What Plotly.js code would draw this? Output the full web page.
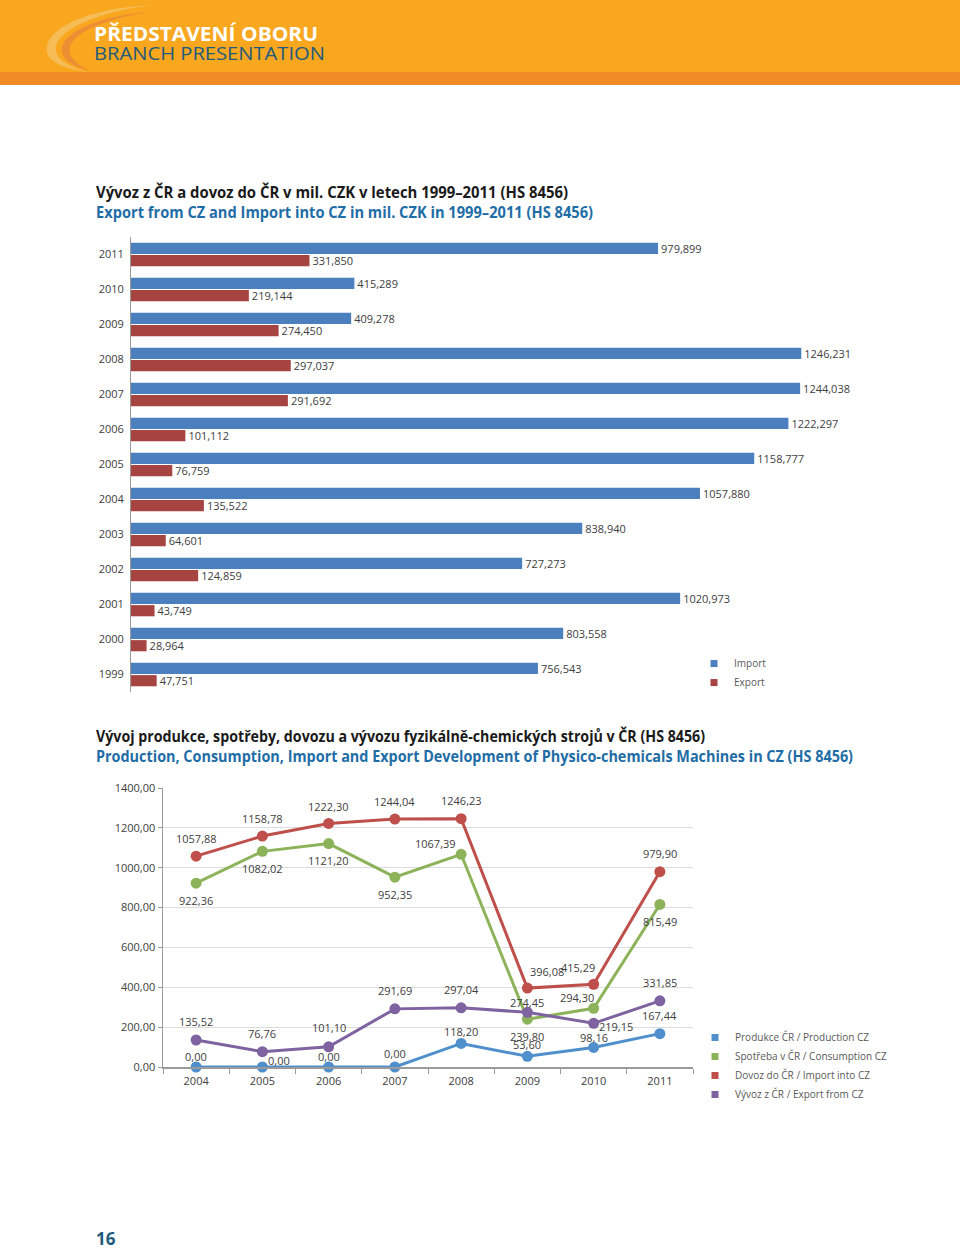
<!DOCTYPE html>
<html><head><meta charset="utf-8">
<script src="https://cdn.plot.ly/plotly-3.0.1.min.js"></script>
<style>
body{margin:0;width:960px;height:1249px;position:relative;background:#fff;font-family:'Open Sans',sans-serif;overflow:hidden}
#hdr{position:absolute;left:0;top:0;width:960px;height:72px;background:#F8A71F}
#hdr2{position:absolute;left:0;top:72px;width:960px;height:13px;background:#F08B25}
.t{position:absolute;white-space:nowrap;transform-origin:0 0;line-height:1}
#c1{position:absolute;left:0;top:230px;width:960px;height:520px}
#c2{position:absolute;left:0;top:770px;width:960px;height:400px}
</style></head><body>
<div id="hdr"></div><div id="hdr2"></div>
<svg style="position:absolute;left:0;top:0" width="220" height="85">
  <path d="M152,5 C95,8 52,24 47,46 C44,60 60,68 88,72 C66,66 54,58 56,46 C60,28 100,12 152,5 Z" fill="#F6BC55"/>
  <path d="M148,12 C102,16 66,30 62,47 C60,58 70,66 90,71 C76,64 68,57 70,47 C74,32 106,19 148,12 Z" fill="#EE8E32"/>
</svg>
<div class="t" data-w="224" style="left:94px;top:25px;font-size:19px;font-weight:700;color:#fff">PŘEDSTAVENÍ OBORU</div>
<div class="t" data-w="231" style="left:94px;top:44px;font-size:19px;font-weight:400;color:#1E5B7D">BRANCH PRESENTATION</div>

<div class="t" data-w="472" style="left:96px;top:184px;font-size:16px;font-weight:700;color:#1a1a1a">Vývoz z ČR a dovoz do ČR v mil. CZK v letech 1999–2011 (HS 8456)</div>
<div class="t" data-w="497" style="left:96px;top:204px;font-size:16px;font-weight:700;color:#1F6DA6">Export from CZ and Import into CZ in mil. CZK in 1999–2011 (HS 8456)</div>

<div class="t" data-w="609" style="left:96px;top:728px;font-size:16px;font-weight:700;color:#1a1a1a">Vývoj produkce, spotřeby, dovozu a vývozu fyzikálně-chemických strojů v ČR (HS 8456)</div>
<div class="t" data-w="757" style="left:96px;top:748px;font-size:16px;font-weight:700;color:#1F6DA6">Production, Consumption, Import and Export Development of Physico-chemicals Machines in CZ (HS 8456)</div>

<div class="t" style="left:96px;top:1230px;font-size:17px;font-weight:700;color:#1E5B7D">16</div>

<div id="c1"></div>
<div id="c2"></div>
<script>
// ---------- data: chart 1 ----------
var years = ['1999','2000','2001','2002','2003','2004','2005','2006','2007','2008','2009','2010','2011'];
var importVals = [756.543, 803.558, 1020.973, 727.273, 838.940, 1057.880, 1158.777, 1222.297, 1244.038, 1246.231, 409.278, 415.289, 979.899];
var exportVals = [47.751, 28.964, 43.749, 124.859, 64.601, 135.522, 76.759, 101.112, 291.692, 297.037, 274.450, 219.144, 331.850];

// ---------- data: chart 2 ----------
var lineYears = ['2004','2005','2006','2007','2008','2009','2010','2011'];
var production = [0.00, 0.00, 0.00, 0.00, 118.20, 53.60, 98.16, 167.44];
var consumption = [922.36, 1082.02, 1121.20, 952.35, 1067.39, 239.80, 294.30, 815.49];
var importCZ = [1057.88, 1158.78, 1222.30, 1244.04, 1246.23, 396.08, 415.29, 979.90];
var exportCZ = [135.52, 76.76, 101.10, 291.69, 297.04, 274.45, 219.15, 331.85];
var seriesNames = ['Produkce ČR / Production CZ','Spotřeba v ČR / Consumption CZ','Dovoz do ČR / Import into CZ','Vývoz z ČR / Export from CZ'];

// label placement (pixel shifts) – styling only
var labelShift = [
  [[0,11],[17,7],[0,11],[0,14],[0,12],[0,12],[0,10],[0,18]],
  [[0,-17],[0,-17],[0,-17],[0,-17],[-26,11],[0,-17],[-17,11],[0,-17]],
  [[0,18],[0,18],[0,17],[0,18],[0,18],[20,17],[-16,17],[0,18]],
  [[0,18],[0,18],[0,19],[0,18],[0,18],[0,10],[22,-3],[0,18]]
];
var colors = ['#4F8FCC','#8DB35A','#BE4F4B','#7E63A0'];
var txtCol = '#404040';
var fontFam = 'Open Sans, sans-serif';

// fit titles
document.querySelectorAll('.t[data-w]').forEach(function(el){
  var w = el.getBoundingClientRect().width;
  var target = parseFloat(el.getAttribute('data-w'));
  el.style.transform = 'scaleX(' + (target / w) + ')';
});

// ---------- chart 1 ----------
var bars = [
  {type:'bar', orientation:'h', name:'Export', y:years, x:exportVals, marker:{color:'#A64442'},
   texttemplate:'%{x:.3f}', textposition:'outside', cliponaxis:false, constraintext:'none',
   textfont:{size:11,color:txtCol,family:fontFam}, showlegend:false, hoverinfo:'none'},
  {type:'bar', orientation:'h', name:'Import', y:years, x:importVals, marker:{color:'#4B7FBD'},
   texttemplate:'%{x:.3f}', textposition:'outside', cliponaxis:false, constraintext:'none',
   textfont:{size:11,color:txtCol,family:fontFam}, showlegend:false, hoverinfo:'none'},
  {type:'scatter', mode:'markers', name:'Export', x:[null], y:[null], marker:{symbol:'square',size:7,color:'#A64442'}},
  {type:'scatter', mode:'markers', name:'Import', x:[null], y:[null], marker:{symbol:'square',size:7,color:'#4B7FBD'}}
];
Plotly.newPlot('c1', bars, {
  width:960, height:520, margin:{l:131,r:76,t:7,b:58},
  paper_bgcolor:'rgba(0,0,0,0)', plot_bgcolor:'rgba(0,0,0,0)',
  separators:', ', barmode:'group', bargap:0.29, bargroupgap:0.1,
  font:{family:fontFam, size:11, color:txtCol},
  xaxis:{range:[0,1400], visible:false, fixedrange:true},
  yaxis:{type:'category', categoryorder:'array', categoryarray:years, showline:true, linecolor:'#9a9a9a', linewidth:1,
         ticks:'outside', ticklen:4, tickcolor:'rgba(0,0,0,0)', showgrid:false, zeroline:false,
         tickfont:{size:11,color:txtCol}},
  legend:{x:0.7477, y:0.0944, xanchor:'left', yanchor:'top', traceorder:'reversed', font:{size:10,color:'#595959'},
          bgcolor:'rgba(0,0,0,0)', itemclick:false},
  showlegend:true
}, {staticPlot:true});

// ---------- chart 2 ----------
var allSeries = [production, consumption, importCZ, exportCZ];
var traces = [];
var annots = [];
allSeries.forEach(function(vals, i){
  traces.push({type:'scatter', mode:'lines+markers', name:seriesNames[i], x:lineYears, y:vals,
    line:{color:colors[i], width:3}, marker:{color:colors[i], size:11}, showlegend:false, hoverinfo:'none', cliponaxis:false});
  vals.forEach(function(v, j){
    annots.push({x:j, y:v, xref:'x', yref:'y', showarrow:false,
      text:v.toFixed(2).replace('.', ','), xshift:labelShift[i][j][0], yshift:labelShift[i][j][1],
      font:{size:11,color:txtCol,family:fontFam}});
  });
});
allSeries.forEach(function(vals, i){
  traces.push({type:'scatter', mode:'markers', name:seriesNames[i], x:[null], y:[null],
    marker:{symbol:'square', size:7, color:colors[i]}});
});
Plotly.newPlot('c2', traces, {
  width:960, height:400, margin:{l:163,r:267,t:18,b:103},
  paper_bgcolor:'rgba(0,0,0,0)', plot_bgcolor:'rgba(0,0,0,0)',
  separators:', ',
  font:{family:fontFam, size:11, color:txtCol},
  xaxis:{type:'category', categoryorder:'array', categoryarray:lineYears, range:[-0.5, lineYears.length - 0.5],
         tickson:'boundaries', ticks:'outside', ticklen:5, tickcolor:'#9a9a9a', tickangle:0, ticklabelstandoff:3,
         showline:true, linecolor:'#9a9a9a', linewidth:1.5, showgrid:false, tickfont:{size:11,color:txtCol}},
  yaxis:{range:[0,1400], dtick:200, tickformat:'.2f', ticks:'outside', ticklen:4, tickcolor:'#9a9a9a',
         showline:true, linecolor:'#9a9a9a', linewidth:1.5, gridcolor:'#dcdcdc', zeroline:false,
         tickfont:{size:11,color:txtCol}},
  annotations:annots,
  legend:{x:1.0038, y:0.1578, xanchor:'left', yanchor:'top', font:{size:10,color:'#595959'},
          bgcolor:'rgba(0,0,0,0)', itemclick:false},
  showlegend:true
}, {staticPlot:true});
</script>
</body></html>
